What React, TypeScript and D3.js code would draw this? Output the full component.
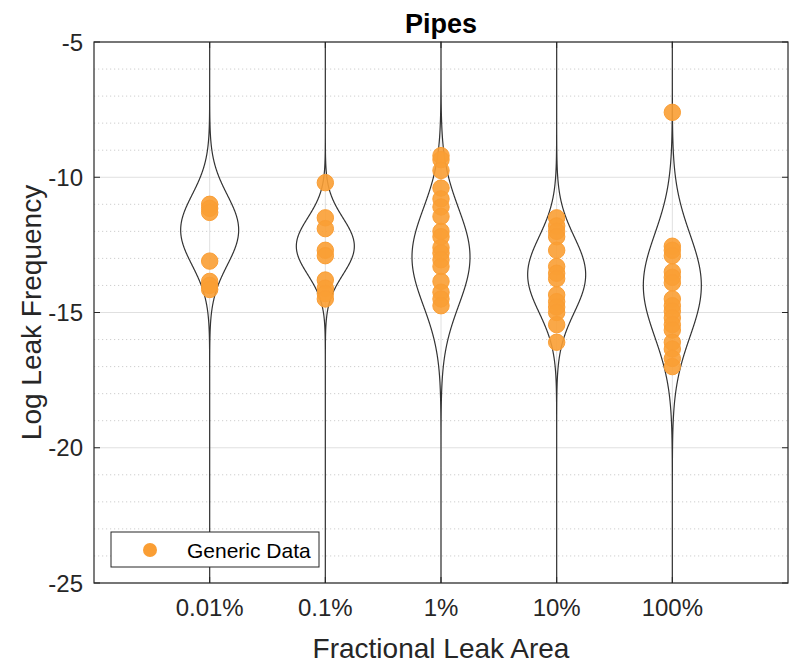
import React from "react";
import * as d3 from "d3";

// Category labels along the x axis
const categories = ["0.01%", "0.1%", "1%", "10%", "100%"];

// Violin distribution parameters per category (log10 space)
const violinCenters = [-11.95, -12.55, -12.95, -13.6, -14.0];
const violinSpreads = [1.3, 1.05, 1.8, 1.4, 1.9];

// Generic data points per category (log10 leak frequency)
const data001 = [-11.0, -11.15, -11.3, -13.1, -13.85, -14.0, -14.15];
const data01 = [-10.2, -11.5, -11.9, -12.7, -12.9, -13.8, -14.1, -14.3, -14.5];
const data1 = [-9.2, -9.35, -9.75, -10.4, -10.8, -11.1, -11.45, -12.0, -12.2, -12.6, -12.8, -13.05, -13.3, -13.85, -14.25, -14.5, -14.75];
const data10 = [-11.5, -11.8, -12.0, -12.2, -12.7, -13.3, -13.55, -13.75, -14.35, -14.6, -14.8, -15.0, -15.45, -16.1];
const data100 = [-7.6, -12.55, -12.7, -12.9, -13.5, -13.7, -13.9, -14.5, -14.75, -14.95, -15.2, -15.45, -15.65, -16.1, -16.35, -16.7, -17.0];
const seriesPoints = [data001, data01, data1, data10, data100];

const yTicks = [-25, -20, -15, -10, -5];
const yMinorTicks = d3.range(-25, -4, 1);

const W = 793;
const H = 665;
const margin = { left: 94, right: 5, top: 42, bottom: 82 };
const FONT = "'Liberation Sans', Arial, Helvetica, sans-serif";
const ORANGE = "rgb(250,158,52)";

export default function App() {
  const x = d3.scaleLinear().domain([0, 6]).range([margin.left, W - margin.right]);
  const y = d3.scaleLinear().domain([-25, -5]).range([H - margin.bottom, margin.top]);
  const maxHalf = 29;
  const x0 = x.range()[0];
  const x1 = x.range()[1];
  const y0 = y.range()[0];
  const y1 = y.range()[1];

  const samples = d3.range(-25, -4.999, 0.02);

  const violinPath = (i: number) => {
    const cx = x(i + 1);
    const mu = violinCenters[i];
    const s = violinSpreads[i];
    const hw = (v: number) => maxHalf * Math.exp(-0.5 * ((v - mu) / s) ** 2);
    const right = samples.map((v) => [cx + hw(v), y(v)] as [number, number]);
    const left = samples.map((v) => [cx - hw(v), y(v)] as [number, number]).reverse();
    const line = d3.line().curve(d3.curveLinear);
    return (line(right) || "") + (line(left) || "").replace(/^M/, "L") + "Z";
  };

  return (
    <div style={{ position: "absolute", left: 0, top: 0 }}>
      <svg width={W} height={H} style={{ display: "block", background: "#fff" }}>
        {/* minor grid */}
        {yMinorTicks
          .filter((t) => t % 5 !== 0)
          .map((t) => (
            <line key={"m" + t} x1={x0} x2={x1} y1={y(t)} y2={y(t)} stroke="#c8c8c8" strokeWidth={0.9} strokeDasharray="1.2 2.8" />
          ))}
        {/* major grid */}
        {yTicks.map((t) => (
          <line key={"g" + t} x1={x0} x2={x1} y1={y(t)} y2={y(t)} stroke="#e0e0e0" strokeWidth={1} />
        ))}
        {categories.map((c, i) => (
          <line key={"vg" + c} x1={x(i + 1)} x2={x(i + 1)} y1={y0} y2={y1} stroke="#e0e0e0" strokeWidth={1} />
        ))}

        {/* violins */}
        {categories.map((c, i) => (
          <path key={"v" + c} d={violinPath(i)} fill="none" stroke="#333" strokeWidth={1.2} />
        ))}

        {/* data points */}
        {seriesPoints.map((pts, i) =>
          pts.map((v, j) => (
            <circle key={`p${i}-${j}`} cx={x(i + 1)} cy={y(v)} r={8.2} fill={ORANGE} fillOpacity={0.9} stroke={ORANGE} strokeWidth={1} />
          ))
        )}

        {/* axes box */}
        <rect x={x0} y={y1} width={x1 - x0} height={y0 - y1} fill="none" stroke="#262626" strokeWidth={1.2} />
        {yTicks.map((t) => (
          <g key={"yt" + t}>
            <line x1={x0} x2={x0 + 6} y1={y(t)} y2={y(t)} stroke="#262626" />
            <line x1={x1} x2={x1 - 6} y1={y(t)} y2={y(t)} stroke="#262626" />
            <text x={x0 - 11} y={y(t)} dy="0.36em" textAnchor="end" fontFamily={FONT} fontSize={24} fill="#262626">
              {t}
            </text>
          </g>
        ))}
        {categories.map((c, i) => (
          <g key={"xt" + c}>
            <line x1={x(i + 1)} x2={x(i + 1)} y1={y0} y2={y0 - 6} stroke="#262626" />
            <line x1={x(i + 1)} x2={x(i + 1)} y1={y1} y2={y1 + 6} stroke="#262626" />
            <text x={x(i + 1)} y={y0 + 33} textAnchor="middle" fontFamily={FONT} fontSize={24} fill="#262626">
              {c}
            </text>
          </g>
        ))}

        {/* labels */}
        <text x={(x0 + x1) / 2} y={33} textAnchor="middle" fontFamily={FONT} fontSize={27} fontWeight="bold" fill="#000">
          Pipes
        </text>
        <text x={(x0 + x1) / 2} y={658} textAnchor="middle" fontFamily={FONT} fontSize={28} fill="#262626">
          Fractional Leak Area
        </text>
        <text transform={`translate(41,${(y0 + y1) / 2}) rotate(-90)`} textAnchor="middle" fontFamily={FONT} fontSize={28} fill="#262626">
          Log Leak Frequency
        </text>

        {/* legend */}
        <rect x={111} y={532} width={208} height={35} fill="#fff" stroke="#262626" strokeWidth={1} />
        <circle cx={150} cy={550} r={7} fill={ORANGE} />
        <text x={187} y={550} dy="0.36em" fontFamily={FONT} fontSize={21} fill="#000">
          Generic Data
        </text>
      </svg>
    </div>
  );
}
